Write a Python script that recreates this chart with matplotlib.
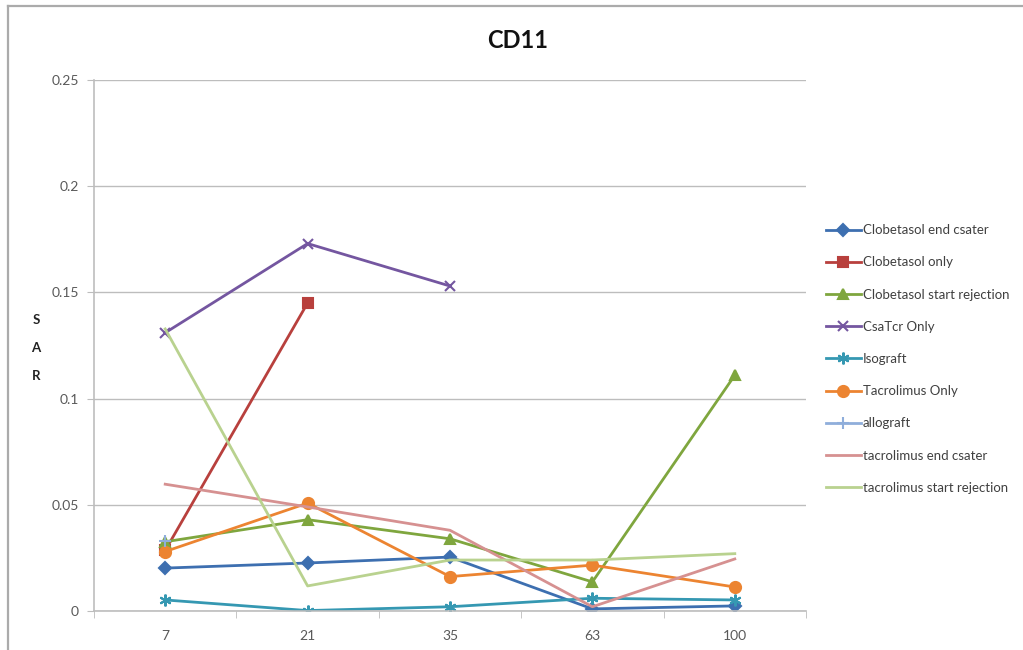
import numpy as np
import matplotlib
matplotlib.use("Agg")
import matplotlib.pyplot as plt
from matplotlib.lines import Line2D

plt.rcParams['font.family'] = ['Lato', 'DejaVu Sans']

# sample days (category axis) and SAR values per group
days = ["7", "21", "35", "63", "100"]
clob_end_csa = [0.0202, 0.0226, 0.0254, 0.0010, 0.0024]
clob_only = [0.0285, 0.1450, np.nan, np.nan, np.nan]
clob_start_rej = [0.0326, 0.0430, 0.0340, 0.0137, 0.1110]
csa_tcr_only = [0.1310, 0.1730, 0.1530, np.nan, np.nan]
isograft = [0.0052, 0.0002, 0.0020, 0.0060, 0.0052]
tacro_only = [0.0280, 0.0508, 0.0162, 0.0216, 0.0113]
allograft = [0.0330, np.nan, np.nan, np.nan, np.nan]
tacro_end_csa = [0.0597, 0.0490, 0.0380, 0.0020, 0.0245]
tacro_start_rej = [0.1328, 0.0118, 0.0240, 0.0240, 0.0270]

series = [
    ("Clobetasol end csater", clob_end_csa, "#3D6FB0", "D", 6.5),
    ("Clobetasol only", clob_only, "#B8403D", "s", 7.5),
    ("Clobetasol start rejection", clob_start_rej, "#7FA63E", "^", 7.5),
    ("CsaTcr Only", csa_tcr_only, "#7456A0", "x", 7.5),
    ("Isograft", isograft, "#3598B2", (6, 2, 0), 8.5),
    ("Tacrolimus Only", tacro_only, "#EC8431", "o", 8),
    ("allograft", allograft, "#8FAEDB", "+", 9),
    ("tacrolimus end csater", tacro_end_csa, "#D69191", None, 0),
    ("tacrolimus start rejection", tacro_start_rej, "#B9D28F", None, 0),
]

fig = plt.figure(figsize=(10.23, 6.5), dpi=100)
ax = fig.add_axes([94 / 1023, 1 - 611 / 650, 712 / 1023, 531 / 650])

x = np.arange(len(days))
for name, vals, col, mk, ms in series:
    ax.plot(x, vals, color=col, lw=2.0, marker=mk, markersize=ms,
            markeredgewidth=1.5, label=name)

ax.set_xlim(-0.5, len(days) - 0.5)
ax.set_ylim(0, 0.25)
ax.set_yticks([0, 0.05, 0.1, 0.15, 0.2, 0.25])
ax.set_yticklabels(["0", "0.05", "0.1", "0.15", "0.2", "0.25"])
ax.set_xticks(x)
ax.set_xticklabels(days)
ax.set_xticks(np.arange(-0.5, len(days)), minor=True)

ax.grid(axis="y", color="#BDBDBD", lw=1.0)
ax.set_axisbelow(True)
for s in ["top", "right"]:
    ax.spines[s].set_visible(False)
for s in ["left", "bottom"]:
    ax.spines[s].set_color("#BDBDBD")
    ax.spines[s].set_linewidth(1.2)
ax.tick_params(axis="y", length=5, color="#BDBDBD", labelsize=10,
               labelcolor="#595959", pad=6)
ax.tick_params(axis="x", which="major", length=0, labelsize=10,
               labelcolor="#595959", pad=14)
ax.tick_params(axis="x", which="minor", length=5, color="#BDBDBD")

fig.text(0.506, 1 - 40 / 650, "CD11", ha="center", va="center",
         fontsize=17, fontweight="bold", color="#111111")
fig.text(36 / 1023, 1 - 348 / 650, "S\nA\nR", ha="center", va="center",
         fontsize=9.5, fontweight="bold", linespacing=2.6, color="#222222")

leg = ax.legend(loc="upper left", bbox_to_anchor=(727 / 712, 1 - 139 / 531),
                frameon=False, fontsize=9.5, handlelength=2.6, handletextpad=0.15,
                labelspacing=1.53, borderaxespad=0)
for t in leg.get_texts():
    t.set_color("#404040")

# chart area border along the top and left
fig.add_artist(Line2D([7.5 / 1023, 1], [1 - 5.5 / 650, 1 - 5.5 / 650],
                      color="#ABABAB", lw=1.6))
fig.add_artist(Line2D([7.5 / 1023, 7.5 / 1023], [0, 1 - 5.5 / 650],
                      color="#ABABAB", lw=1.6))

fig.savefig("out.png", dpi=100)
